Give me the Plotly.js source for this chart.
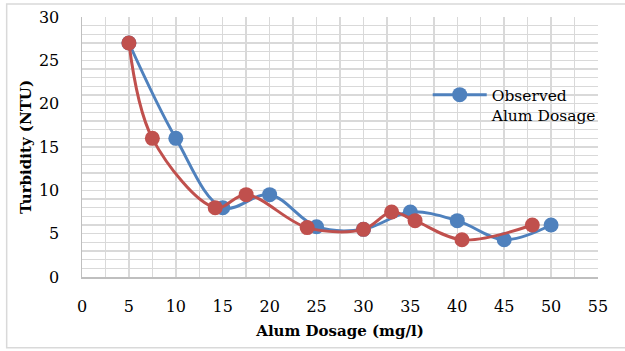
<!DOCTYPE html>
<html>
<head>
<meta charset="utf-8">
<script src="https://cdn.plot.ly/plotly-3.0.1.min.js"></script>
<style>
  html, body { margin: 0; padding: 0; background: #fff; }
  #chart { width: 625px; height: 351px; }
</style>
</head>
<body>
<div id="chart"></div>
<script>
// Observed turbidity versus alum dose
const observedDose = [5, 10, 15, 20, 25, 30, 35, 40, 45, 50];
const observedTurbidity = [27, 16, 8, 9.5, 5.8, 5.5, 7.5, 6.5, 4.3, 6];

// Second series of dose / turbidity readings
const secondDose = [5, 7.5, 14.2, 17.5, 24, 30, 33, 35.5, 40.5, 48];
const secondTurbidity = [27, 16, 8, 9.5, 5.7, 5.5, 7.5, 6.5, 4.3, 6];

const legendLabel = 'Observed<br>Alum Dosage';
const xTitle = 'Alum Dosage (mg/l)';
const yTitle = 'Turbidity (NTU)';

const BLUE = '#4F81BD';
const RED = '#C0504D';
const GRID = '#d9d9d9';
const FONT = 'DejaVu Serif, Cambria, serif';

const traces = [
  {
    x: observedDose, y: observedTurbidity,
    type: 'scatter', mode: 'lines+markers',
    name: legendLabel,
    line: { color: BLUE, width: 3, shape: 'spline', smoothing: 1 },
    marker: { color: BLUE, size: 15 },
    showlegend: true
  },
  {
    x: secondDose, y: secondTurbidity,
    type: 'scatter', mode: 'lines+markers',
    name: 'series2',
    line: { color: RED, width: 3, shape: 'spline', smoothing: 1 },
    marker: { color: RED, size: 15 },
    showlegend: false
  }
];

const layout = {
  width: 625, height: 351,
  margin: { l: 82, r: 27, t: 17, b: 74 },
  paper_bgcolor: '#fff', plot_bgcolor: '#fff',
  font: { family: FONT, size: 15, color: '#000' },
  xaxis: {
    range: [0, 55], dtick: 5, tick0: 0,
    showgrid: true, gridcolor: GRID, gridwidth: 1.5,
    minor: { dtick: 2.5, showgrid: true, gridcolor: GRID, gridwidth: 1.5 },
    showline: true, linecolor: '#bfbfbf', linewidth: 1.5,
    zeroline: false, ticks: '', ticklabelstandoff: 14,
    tickfont: { family: FONT, size: 16 },
    title: { text: '<b>' + xTitle + '</b>', font: { family: FONT, size: 15 }, standoff: 11 }
  },
  yaxis: {
    range: [0, 30], dtick: 5, tick0: 0,
    showgrid: true, gridcolor: GRID, gridwidth: 1.5,
    minor: { dtick: 1, showgrid: true, gridcolor: GRID, gridwidth: 1.5 },
    showline: true, linecolor: '#bfbfbf', linewidth: 1.5,
    zeroline: false, ticks: '', ticklabelstandoff: 18,
    tickfont: { family: FONT, size: 16 },
    title: { text: '<b>' + yTitle + '</b>', font: { family: FONT, size: 15 }, standoff: 3 }
  },
  legend: {
    x: 0.67, y: 0.765, xanchor: 'left', yanchor: 'top',
    valign: 'top', bgcolor: 'rgba(0,0,0,0)', borderwidth: 0,
    itemwidth: 54,
    font: { family: FONT, size: 15.5, color: '#000' }
  },
  shapes: [
    {
      type: 'rect', xref: 'paper', yref: 'paper',
      x0: -0.146, x1: 1.2, y0: -0.272, y1: 1.05,
      line: { color: GRID, width: 1.5 }, fillcolor: 'rgba(0,0,0,0)',
      layer: 'below'
    }
  ]
};

Plotly.newPlot('chart', traces, layout, { displayModeBar: false, staticPlot: true });
</script>
</body>
</html>
